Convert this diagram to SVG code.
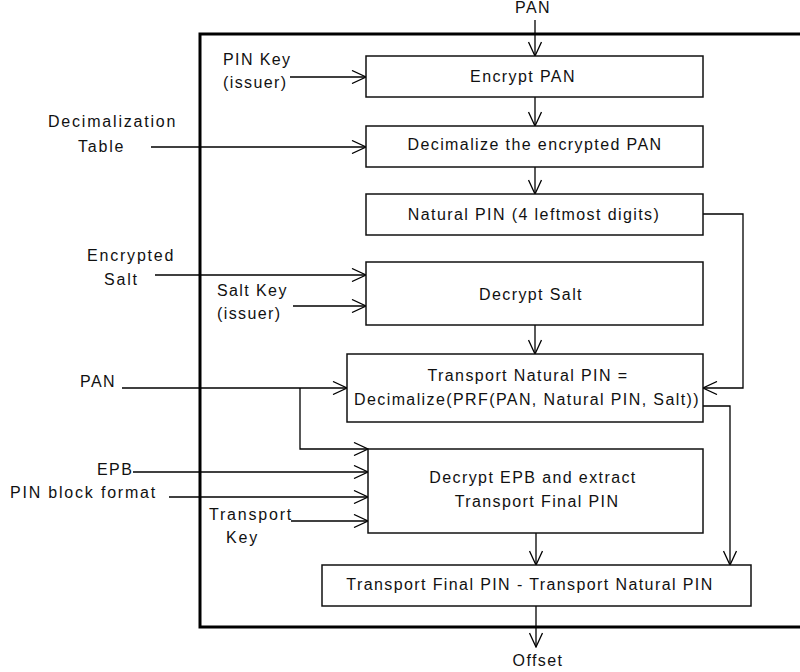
<svg xmlns="http://www.w3.org/2000/svg" width="800" height="672" viewBox="0 0 800 672">
<defs>
<marker id="arr" viewBox="0 0 16 14" refX="15" refY="7" markerWidth="16" markerHeight="14" markerUnits="userSpaceOnUse" orient="auto">
<path d="M1,0.5 L15,7 L1,13.5" fill="none" stroke="#000" stroke-width="1.3"/>
</marker>
<style>
text{font-family:"Liberation Sans",Arial,sans-serif;font-size:16px;letter-spacing:1.4px;fill:#111}
.m{text-anchor:middle}
.l{letter-spacing:1.8px}
.box{fill:#fff;stroke:#111;stroke-width:1.5}
.c{fill:none;stroke:#000;stroke-width:1.3}
.a{marker-end:url(#arr)}
</style>
</defs>
<rect width="800" height="672" fill="#fff"/>
<path id="frame" d="M801,34 H200 V627 H801" fill="none" stroke="#000" stroke-width="3"/>
<g id="connectors">
<path class="c a" d="M535,20 V56"/>
<path class="c a" d="M535,97 V126"/>
<path class="c a" d="M535,167 V194"/>
<path class="c a" d="M290,77 H366"/>
<path class="c a" d="M151,147 H366"/>
<path class="c a" d="M703,214 H743 V388 H703"/>
<path class="c a" d="M155,275 H366"/>
<path class="c a" d="M293,306 H366"/>
<path class="c a" d="M535,325 V354"/>
<path class="c a" d="M122,388 H347"/>
<path class="c a" d="M300,388 V449 H368"/>
<path class="c a" d="M133,472 H368"/>
<path class="c a" d="M169,497 H368"/>
<path class="c a" d="M291,521 H368"/>
<path class="c a" d="M703,406 H730 V565"/>
<path class="c a" d="M536,533 V565"/>
<path class="c a" d="M536,606 V647"/>
</g>
<g id="encrypt-pan"><rect class="box" x="366" y="56" width="337" height="41"/><text class="m" x="523" y="82">Encrypt PAN</text></g>
<g id="decimalize"><rect class="box" x="366" y="126" width="337" height="41"/><text class="m" x="535" y="150">Decimalize the encrypted PAN</text></g>
<g id="natural-pin"><rect class="box" x="366" y="194" width="337" height="41"/><text class="m" x="534" y="220">Natural PIN (4 leftmost digits)</text></g>
<g id="decrypt-salt"><rect class="box" x="366" y="262" width="337" height="63"/><text class="m" x="531" y="300">Decrypt Salt</text></g>
<g id="transport-natural"><rect class="box" x="347" y="354" width="356" height="68"/><text class="m" x="528" y="381">Transport Natural PIN =</text><text class="m" x="527" y="405">Decimalize(PRF(PAN, Natural PIN, Salt))</text></g>
<g id="decrypt-epb"><rect class="box" x="368" y="449" width="335" height="84"/><text class="m" x="533" y="483">Decrypt EPB and extract</text><text class="m" x="537" y="507">Transport Final PIN</text></g>
<g id="final"><rect class="box" x="322" y="565" width="429" height="41"/><text class="m" x="530" y="590">Transport Final PIN - Transport Natural PIN</text></g>
<g id="labels">
<text class="m" x="533" y="13">PAN</text>
<text x="223" y="65">PIN Key</text>
<text x="223" y="88">(issuer)</text>
<text class="l" x="48" y="127">Decimalization</text>
<text class="l" x="78" y="152">Table</text>
<text class="l" x="87" y="261">Encrypted</text>
<text class="l" x="104" y="285">Salt</text>
<text x="217" y="296">Salt Key</text>
<text x="217" y="319">(issuer)</text>
<text x="80" y="387">PAN</text>
<text x="97" y="475">EPB</text>
<text class="l" x="10" y="498">PIN block format</text>
<text class="l" x="209" y="520">Transport</text>
<text class="l" x="226" y="543">Key</text>
<text class="m" x="538" y="666">Offset</text>
</g>
</svg>
